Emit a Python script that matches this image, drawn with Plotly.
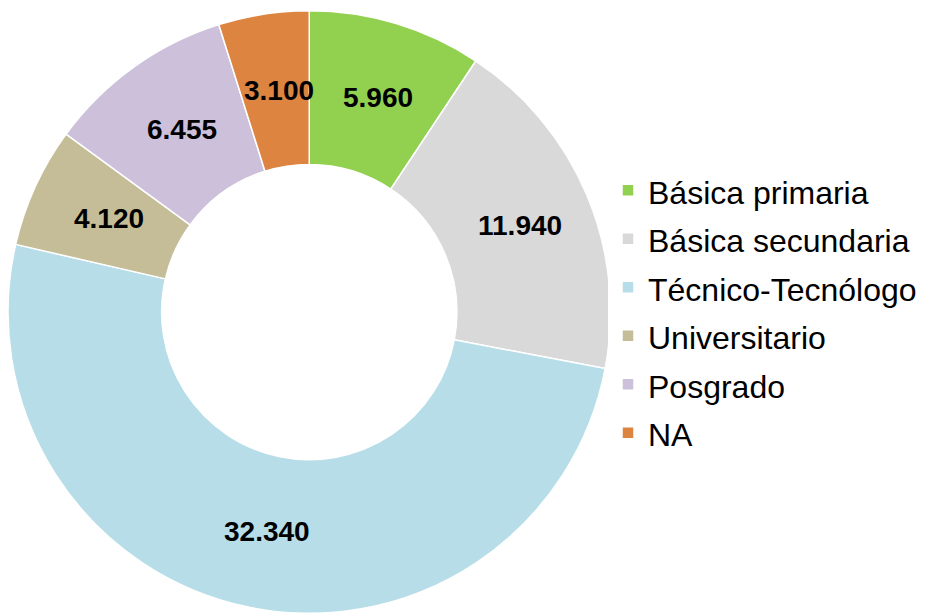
import numpy as np
import plotly.graph_objects as go

categories = ["Básica primaria", "Básica secundaria", "Técnico-Tecnólogo",
              "Universitario", "Posgrado", "NA"]
values = [5960, 11940, 32340, 4120, 6455, 3100]
colors = ["#92D050", "#D9D9D9", "#B7DEE8", "#C4BD97", "#CCC0DA", "#DC8440"]

W, H = 925, 614
hole = 0.49
dom_x = [0.0, 602.5 / W]
dom_y = [0.0138, 0.9959]

legend_labels = ["<span style='font-size:32px'>" + c + "</span>" for c in categories]

fig = go.Figure(go.Pie(
    labels=legend_labels,
    values=values,
    sort=False,
    direction="clockwise",
    rotation=0,
    hole=hole,
    marker=dict(colors=colors, line=dict(color="white", width=1.5)),
    textinfo="none",
    hovertext=categories,
    hoverinfo="text+value",
    domain=dict(x=dom_x, y=dom_y),
))

# value labels at mid-ring, following each slice's mid angle
wpx = (dom_x[1] - dom_x[0]) * W
hpx = (dom_y[1] - dom_y[0]) * H
r = min(wpx, hpx) / 2
cx = (dom_x[0] + dom_x[1]) / 2 * W
cy = (dom_y[0] + dom_y[1]) / 2 * H  # from bottom
rm = r * (1 + hole) / 2
vals = np.array(values, dtype=float)
cum = np.cumsum(vals) - vals / 2
ang = cum / vals.sum() * 2 * np.pi
for v, a in zip(values, ang):
    x = cx + rm * np.sin(a) + 4
    y = cy + rm * np.cos(a)
    fig.add_annotation(
        x=x / W, y=y / H, xref="paper", yref="paper",
        xanchor="center", yanchor="middle",
        text="<b>" + f"{v:,}".replace(",", ".") + "</b>",
        showarrow=False,
        font=dict(family="Liberation Sans, Arial", size=28, color="black"),
    )

fig.update_layout(
    width=W, height=H,
    margin=dict(l=0, r=0, t=0, b=0),
    paper_bgcolor="white",
    plot_bgcolor="white",
    showlegend=True,
    legend=dict(
        x=600 / W, y=1 - 303.5 / H, xanchor="left", yanchor="middle",
        font=dict(family="Liberation Sans, Arial", size=35, color="black"),
        itemwidth=30,
    ),
)

fig.write_html("out.html")
